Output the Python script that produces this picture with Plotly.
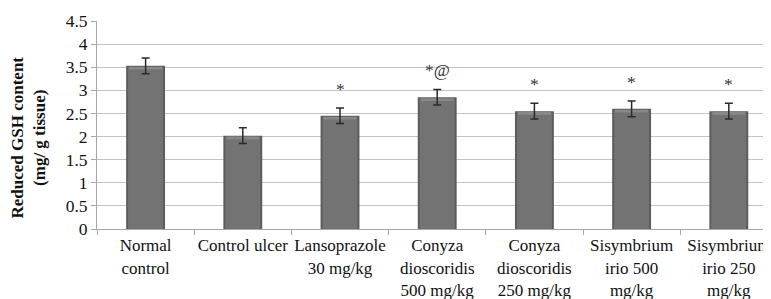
import plotly.graph_objects as go

categories = ["Normal<br>control", "Control ulcer", "Lansoprazole<br>30 mg/kg",
              "Conyza<br>dioscoridis<br>500 mg/kg", "Conyza<br>dioscoridis<br>250 mg/kg",
              "Sisymbrium<br>irio 500<br>mg/kg", "Sisymbrium<br>irio 250<br>mg/kg"]
values = [3.53, 2.02, 2.45, 2.85, 2.55, 2.60, 2.55]
errors = [0.17, 0.17, 0.17, 0.17, 0.17, 0.17, 0.17]
marks = ["", "", "*", "*@", "*", "*", "*"]
y_ticks = [0, 0.5, 1, 1.5, 2, 2.5, 3, 3.5, 4, 4.5]
y_tick_labels = ["0", "0.5", "1", "1.5", "2", "2.5", "3", "3.5", "4", "4.5"]
y_title = "<b>Reduced GSH content<br>(mg/ g tissue)</b>"

FONT = "Liberation Serif"
FS = 17.5
# page body has an 8px margin, so the figure is sized to the rest of the window
L, R, T, B = 89, 0, 13, 70
W, H = 763, 291

fig = go.Figure()
# outer (darker edge) bar
fig.add_trace(go.Bar(x=categories, y=values, width=0.4,
                     marker=dict(color="#5c5c5c", line=dict(width=0)),
                     showlegend=False, hoverinfo="skip"))
# inner body
fig.add_trace(go.Bar(x=categories, y=[v - 0.03 for v in values], width=0.36,
                     marker=dict(color="#737373", line=dict(width=0)),
                     showlegend=False, hoverinfo="skip"))
# lighter top bevel
fig.add_trace(go.Bar(x=categories, y=[0.06] * len(values), base=[v - 0.08 for v in values],
                     width=0.34, marker=dict(color="#888888", line=dict(width=0)),
                     showlegend=False, hoverinfo="skip"))
# error bars
fig.add_trace(go.Scatter(x=categories, y=values, mode="markers",
                         marker=dict(size=1, color="rgba(0,0,0,0)"),
                         error_y=dict(type="data", array=errors, color="#2a2a2a",
                                      thickness=1.5, width=4),
                         showlegend=False, hoverinfo="skip"))

for c, v, e, m in zip(categories, values, errors, marks):
    if m:
        fig.add_annotation(x=c, y=v + e, text=m, showarrow=False,
                           yanchor="bottom", yshift=7,
                           font=dict(family=FONT, size=FS, color="#333333"))

pw = W - L - R
ph = H - T - B
fig.add_annotation(xref="paper", yref="paper", x=(20 - L) / pw, y=(H - B - 129.5) / ph,
                   text=y_title, textangle=-90, showarrow=False,
                   xanchor="center", yanchor="middle",
                   font=dict(family=FONT, size=17, color="#111111"))

fig.update_layout(
    width=W, height=H,
    margin=dict(l=L, r=R, t=T, b=B, autoexpand=False),
    paper_bgcolor="white", plot_bgcolor="white",
    barmode="overlay",
    font=dict(family=FONT, size=FS, color="#111111"),
    xaxis=dict(range=[-0.5, 6.434], type="category", showgrid=False,
               showline=True, linecolor="#a6a6a6", linewidth=1,
               ticks="outside", tickson="boundaries", ticklen=5,
               tickcolor="#a6a6a6", tickangle=0, automargin=False,
               ticklabelstandoff=1,
               tickfont=dict(family=FONT, size=17)),
    yaxis=dict(range=[0, 4.5], tickvals=y_ticks, ticktext=y_tick_labels,
               showgrid=True, gridcolor="#c2c2c2", gridwidth=1,
               showline=True, linecolor="#a6a6a6", linewidth=1,
               ticks="outside", ticklen=5, tickcolor="#a6a6a6",
               zeroline=False, automargin=False,
               tickfont=dict(family=FONT, size=FS)),
)

fig.write_html("out.html")
